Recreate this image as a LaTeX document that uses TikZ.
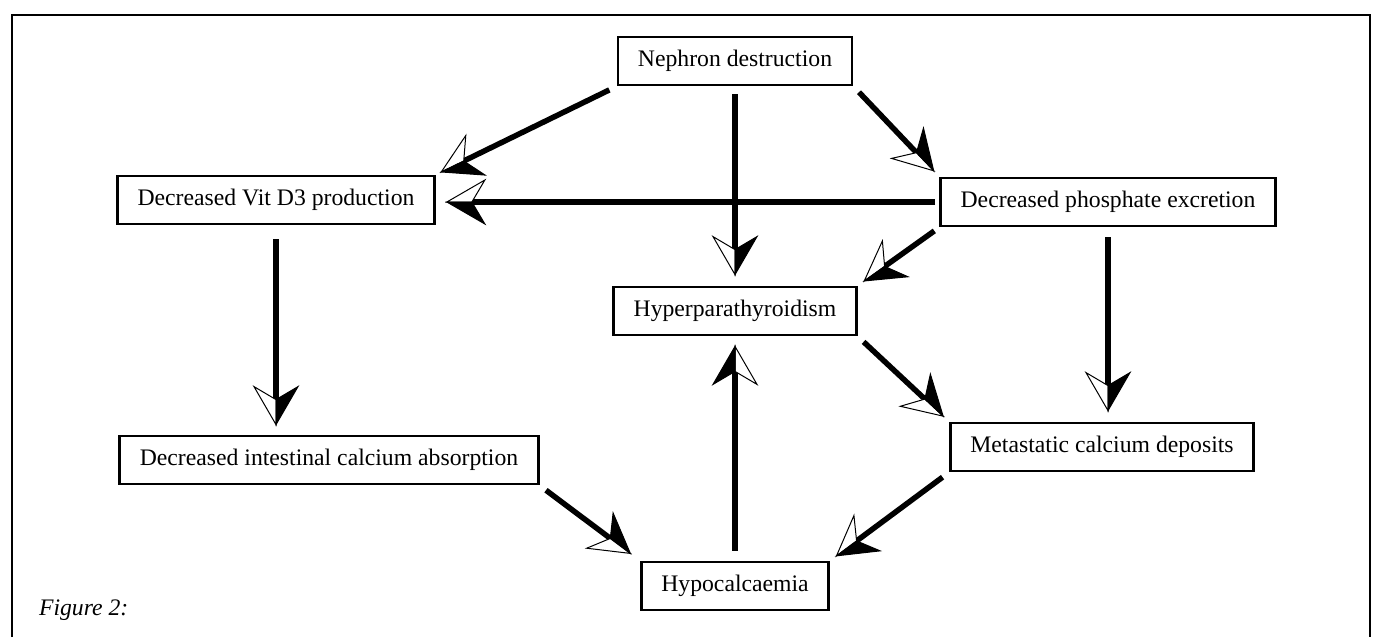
\documentclass[tikz,border=0pt]{standalone}
\usepackage{fontspec}
\setmainfont{Liberation Serif}
\usetikzlibrary{arrows.meta}

% half open, half filled arrow head
\pgfdeclarearrow{
  name = halfkite,
  parameters = {halfkite},
  setup code = {
    \pgfarrowssettipend{0pt}
    \pgfarrowssetlineend{-11pt}
    \pgfarrowssetbackend{-19pt}
    \pgfarrowshullpoint{0pt}{0pt}
    \pgfarrowsupperhullpoint{-19pt}{11pt}
    \pgfarrowshullpoint{-12.5pt}{0pt}
  },
  drawing code = {
    \pgfsetdash{}{0pt}
    \pgfsetlinewidth{0.5pt}
    \pgfsetmiterjoin
    \pgfpathmoveto{\pgfpointorigin}
    \pgfpathlineto{\pgfpoint{-19pt}{-11pt}}
    \pgfpathlineto{\pgfpoint{-12.5pt}{0pt}}
    \pgfpathclose
    \pgfsetfillcolor{white}
    \pgfusepathqfillstroke
    \pgfpathmoveto{\pgfpointorigin}
    \pgfpathlineto{\pgfpoint{-19pt}{11pt}}
    \pgfpathlineto{\pgfpoint{-12.5pt}{0pt}}
    \pgfpathclose
    \pgfsetfillcolor{black}
    \pgfusepathqfillstroke
  }
}

\begin{document}
\begin{tikzpicture}[x=0.5pt, y=-0.5pt, font=\fontsize{11.85}{14}\selectfont]
	\tikzstyle{box} = [draw, line width=1.4pt, minimum height=24pt, inner xsep=10pt, inner ysep=0pt]
	\tikzstyle{conn} = [line width=2.75pt, -halfkite, shorten <=4pt, shorten >=4pt]
	\useasboundingbox (0,0) rectangle (1381,637);
	\draw[line width=1.4pt] (12,637) -- (12,15) -- (1370,15) -- (1370,637);

	\node[box] (neph) at (735,61) {Nephron destruction};
	\node[box] (vitd) at (276,200) {Decreased Vit D3 production};
	\node[box] (phos) at (1108,202) {Decreased phosphate excretion};
	\node[box] (hyper) at (735,311) {Hyperparathyroidism};
	\node[box] (intes) at (329,460) {Decreased intestinal calcium absorption};
	\node[box] (meta) at (1102,447) {Metastatic calcium deposits};
	\node[box] (hypo) at (735,586) {Hypocalcaemia};
	\node[anchor=base west, font=\fontsize{11.85}{14}\selectfont\itshape] (fig) at (32,615) {Figure 2:};

	\path[conn]
	(neph.south west) edge[shorten >=3pt] (vitd.north east)
	(neph.south) edge[shorten >=5.5pt] (hyper.north)
	(neph.south east) edge (phos.north west)
	(phos.west) edge[shorten <=2pt, shorten >=5.5pt] (vitd.east |- phos.west)
	(phos.south west) edge[shorten <=3pt] (hyper.north east)
	(phos.south) edge[shorten <=5pt, shorten >=5.5pt] (phos.south |- meta.north)
	(vitd.south) edge[shorten <=7pt, shorten >=5pt] (vitd.south |- intes.north)
	(hyper.south east) edge (meta.north west)
	(intes.south east) edge[shorten >=6pt] (hypo.north west)
	(meta.south west) edge (hypo.north east)
	(hypo.north) edge[shorten <=5pt, shorten >=5pt] (hyper.south)
	;
\end{tikzpicture}
\end{document}
